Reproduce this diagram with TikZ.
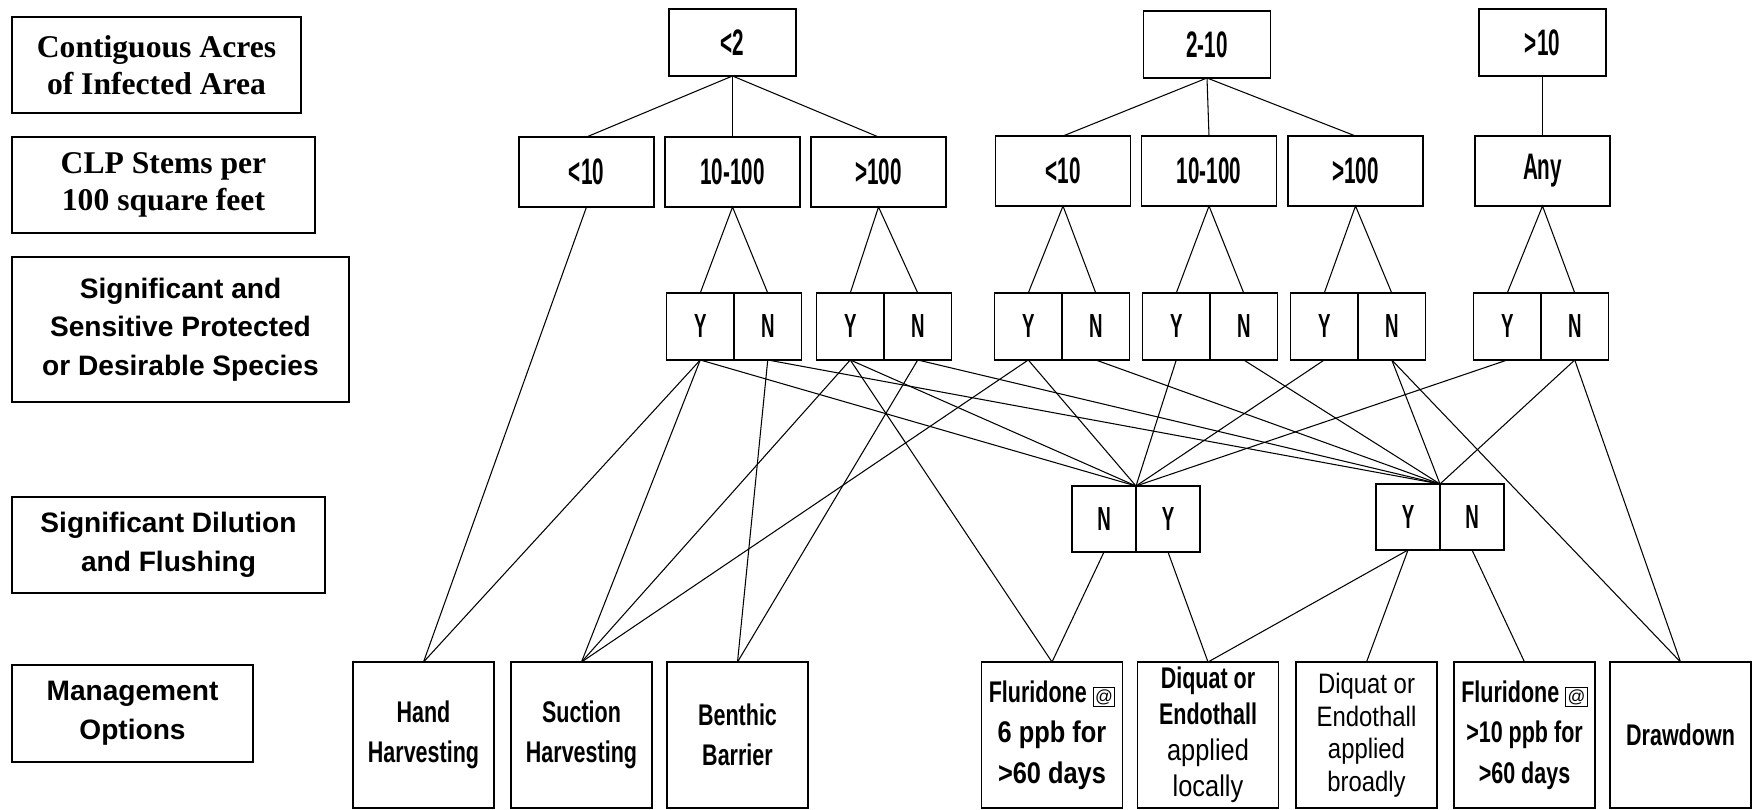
\documentclass[tikz,border=0pt]{standalone}
\usepackage{fontspec}
\setmainfont{Liberation Serif}
\setsansfont{Liberation Sans}
\newfontfamily\tagfont[FakeStretch=0.56]{Liberation Sans}
\newfontfamily\optfont[FakeStretch=0.72]{Liberation Sans}
\newfontfamily\subfont[FakeStretch=0.85]{Liberation Sans}
\usetikzlibrary{positioning}
\newcommand{\atbox}{{\setlength{\fboxsep}{0.8pt}\setlength{\fboxrule}{0.5pt}\fbox{\sffamily\mdseries\fontsize{10}{10}\selectfont @}}}
\tikzset{
  figbox/.style={draw=black, line width=0.8pt, inner sep=0pt, outer sep=0pt},
  headserif/.style={figbox, align=center, font=\bfseries\fontsize{18}{21}\selectfont},
  headsans/.style={figbox, align=center, font=\sffamily\bfseries\fontsize{16}{22}\selectfont},
  valbox/.style={figbox, minimum width=2.7cm, minimum height=1.4cm, font=\tagfont\bfseries\fontsize{21}{24}\selectfont},
  topbox/.style={valbox, minimum width=2.54cm, minimum height=1.34cm},
  ynbox/.style={figbox, minimum width=1.35cm, minimum height=1.34cm, font=\tagfont\bfseries\fontsize{19}{22}\selectfont},
  flushbox/.style={ynbox, minimum width=1.28cm, minimum height=1.32cm},
  optbox/.style={figbox, minimum width=2.82cm, minimum height=2.92cm, align=center, font=\optfont\bfseries\fontsize{17}{23}\selectfont},
  figline/.style={line width=0.6pt, draw=black}
}

\begin{document}
\begin{tikzpicture}[x=0.02cm, y=-0.02cm]
\useasboundingbox (0,0) rectangle (1754,810);
% row headings
\node[headserif, minimum width=5.78cm, minimum height=1.92cm] (hacres) at (156.5,65) {Contiguous Acres\\of Infected Area};
\node[headserif, minimum width=6.06cm, minimum height=1.92cm] (hstems) at (163.5,185) {CLP Stems per\\100 square feet};
\node[headsans, minimum width=6.74cm, minimum height=2.9cm] (hspecies) at (180.5,329.5) {Significant and\\Sensitive Protected\\or Desirable Species};
\node[headsans, minimum width=6.26cm, minimum height=1.92cm] (hflush) at (168.5,545) {Significant Dilution\\and Flushing};
\node[headsans, minimum width=4.82cm, minimum height=1.94cm] (hoptions) at (132.5,713.5) {Management\\Options};
% acres
\node[topbox] (a1) at (732.5,42.5) {<2};
\node[topbox] (a2) at (1207,44.5) {2-10};
\node[topbox] (a3) at (1542.5,42.5) {>10};
% stems
\node[valbox] (s1) at (586.5,172) {<10};
\node[valbox] (s2) at (732.5,172) {10-100};
\node[valbox] (s3) at (878.5,172) {>100};
\node[valbox] (s4) at (1063,171) {<10};
\node[valbox] (s5) at (1209,171) {10-100};
\node[valbox] (s6) at (1355.5,171) {>100};
\node[valbox] (s7) at (1542.5,171) {Any};
% species Y/N
\foreach \i/\x in {2/734,3/884,4/1062,5/1210,6/1358,7/1541}{
  \node[ynbox, anchor=east] (y\i) at (\x,326.5) {Y};
  \node[ynbox, right=0pt of y\i] (n\i) {N};
}
% dilution
\node[flushbox, anchor=east] (dan) at (1136,519) {N};
\node[flushbox, right=0pt of dan] (day) {Y};
\node[flushbox, anchor=east] (dby) at (1440,517) {Y};
\node[flushbox, right=0pt of dby] (dbn) {N};
\coordinate (ja) at (dan.north east);
\coordinate (jb) at (dby.north east);
% options
\node[optbox] (m1) at (423.5,735) {Hand\\Harvesting};
\node[optbox] (m2) at (581.5,735) {Suction\\Harvesting};
\node[optbox] (m3) at (737.5,735) {Benthic\\Barrier};
\node[optbox] (m4) at (1052,735) {Fluridone \atbox\\{\subfont 6 ppb for}\\{\subfont >60 days}};
\node[optbox, font=\optfont\bfseries\fontsize{17}{20.5}\selectfont] (m5) at (1208,735) {Diquat or\\Endothall\\{\subfont\mdseries applied}\\{\subfont\mdseries locally}};
\node[optbox, font=\subfont\fontsize{16}{18.5}\selectfont] (m6) at (1366.5,735) {Diquat or\\Endothall\\applied\\broadly};
\node[optbox] (m7) at (1524.5,735) {Fluridone \atbox\\>10 ppb for\\>60 days};
\node[optbox] (m8) at (1680.5,735) {Drawdown};
% connectors
\foreach \s in {s1,s2,s3}{\draw[figline] (a1.south) -- (\s.north);}
\foreach \s in {s4,s5,s6}{\draw[figline] (a2.south) -- (\s.north);}
\draw[figline] (a3.south) -- (s7.north);
\foreach \i in {2,...,7}{\draw[figline] (y\i.north) -- (s\i.south) -- (n\i.north);}
\draw[figline] (s1.south) -- (m1.north);
\foreach \a/\b in {y2/m1,y2/m2,y3/m2,y3/m4,y4/m2,n2/m3,n3/m3,n6/m8,n7/m8}{\draw[figline] (\a.south) -- (\b.north);}
\foreach \a in {y2,y3,y4,y5,y6,y7}{\draw[figline] (\a.south) -- (ja);}
\foreach \a in {n2,n3,n4,n5,n6,n7}{\draw[figline] (\a.south) -- (jb);}
\foreach \a/\b in {dan/m4,day/m5,dby/m5,dby/m6,dbn/m7}{\draw[figline] (\a.south) -- (\b.north);}
\end{tikzpicture}
\end{document}
